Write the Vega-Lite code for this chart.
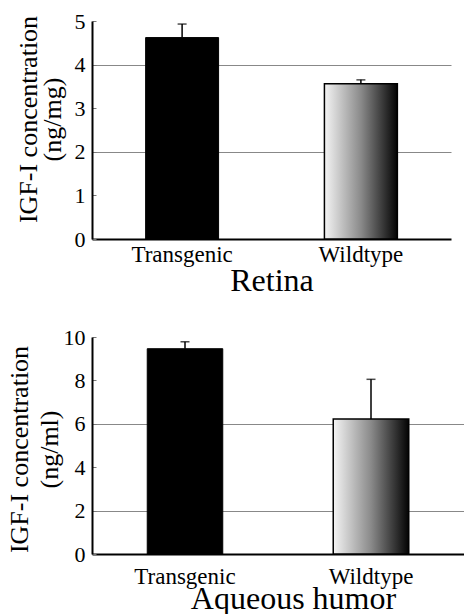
{
  "$schema": "https://vega.github.io/schema/vega-lite/v6.json",
  "background": "white",
  "padding": {"left": 5, "top": 10, "right": 0, "bottom": 0},
  "spacing": 30,
  "config": {
    "font": "Liberation Serif",
    "view": {"stroke": null},
    "axisY": {
      "domainColor": "black", "domainWidth": 2,
      "tickColor": "#777", "tickWidth": 1, "tickSize": -4,
      "labelFontSize": 22, "labelColor": "black", "labelPadding": 11,
      "titleFontSize": 26, "titleFontWeight": "normal", "titleColor": "black",
      "titleAngle": -90, "titleBaseline": "middle", "titleAlign": "center",
      "gridColor": "#888", "gridWidth": 1
    },
    "axisX": {
      "domainColor": "black", "domainWidth": 2, "ticks": false,
      "labelFontSize": 23, "labelColor": "black", "labelAngle": 0,
      "titleFontSize": 32, "titleFontWeight": "normal", "titleColor": "black"
    }
  },
  "datasets": {
    "igf": [
      {"tissue": "Retina", "group": "Transgenic", "mean": 4.62, "upper": 4.93},
      {"tissue": "Retina", "group": "Wildtype", "mean": 3.56, "upper": 3.65},
      {"tissue": "Aqueous humor", "group": "Transgenic", "mean": 9.46, "upper": 9.78},
      {"tissue": "Aqueous humor", "group": "Wildtype", "mean": 6.22, "upper": 8.05}
    ]
  },
  "vconcat": [
    {
      "data": {"name": "igf"},
      "transform": [{"filter": "datum.tissue === 'Retina'"}],
      "width": 359,
      "height": 218,
      "encoding": {
        "x": {
          "field": "group", "type": "nominal",
          "scale": {"paddingInner": 0.592, "paddingOuter": 0.3},
          "title": "Retina",
          "axis": {"labelPadding": 4, "titlePadding": -1}
        },
        "y": {
          "field": "mean", "type": "quantitative",
          "scale": {"domain": [0, 5], "nice": false},
          "title": ["IGF-I concentration", "(ng/mg)"],
          "axis": {
            "values": [0, 1, 2, 3, 4, 5],
            "titleLineHeight": 24, "titleX": -64, "titleY": 98,
            "grid": true,
            "gridOpacity": {"condition": {"test": "datum.value == 2 || datum.value == 4", "value": 1}, "value": 0}
          }
        }
      },
      "layer": [
        {
          "transform": [{"filter": "datum.group === 'Transgenic'"}],
          "mark": {"type": "bar", "fill": "black", "stroke": "black", "strokeWidth": 1}
        },
        {
          "transform": [{"filter": "datum.group === 'Wildtype'"}],
          "mark": {
            "type": "bar", "stroke": "black", "strokeWidth": 1.5,
            "fill": {"gradient": "linear", "x1": 0, "x2": 1, "y1": 0, "y2": 0,
              "stops": [{"offset": 0, "color": "#f4f4f4"}, {"offset": 0.5, "color": "#8a8a8a"}, {"offset": 1, "color": "#030303"}]}
          }
        },
        {
          "mark": {"type": "rule", "color": "black", "strokeWidth": 1.5},
          "encoding": {"y2": {"field": "upper"}}
        },
        {
          "mark": {"type": "tick", "orient": "horizontal", "color": "black", "size": 9, "thickness": 1.5},
          "encoding": {"y": {
            "field": "upper", "type": "quantitative",
            "scale": {"domain": [0, 5], "nice": false},
            "title": ["IGF-I concentration", "(ng/mg)"],
            "axis": {
              "values": [0, 1, 2, 3, 4, 5],
              "titleLineHeight": 24, "titleX": -64, "titleY": 98,
              "grid": true,
              "gridOpacity": {"condition": {"test": "datum.value == 2 || datum.value == 4", "value": 1}, "value": 0}
            }
          }}
        }
      ]
    },
    {
      "data": {"name": "igf"},
      "transform": [{"filter": "datum.tissue === 'Aqueous humor'"}],
      "width": 372,
      "height": 217,
      "encoding": {
        "x": {
          "field": "group", "type": "nominal",
          "scale": {"paddingInner": 0.594, "paddingOuter": 0.297},
          "title": "Aqueous humor",
          "axis": {"labelPadding": 11, "titlePadding": -5, "titleX": 201, "titleAlign": "center"}
        },
        "y": {
          "field": "mean", "type": "quantitative",
          "scale": {"domain": [0, 10], "nice": false},
          "title": ["IGF-I concentration", "(ng/ml)"],
          "axis": {
            "values": [0, 2, 4, 6, 8, 10],
            "titleLineHeight": 30, "titleX": -73, "titleY": 112,
            "grid": true,
            "gridOpacity": {"condition": {"test": "datum.value == 2 || datum.value == 6", "value": 1}, "value": 0}
          }
        }
      },
      "layer": [
        {
          "transform": [{"filter": "datum.group === 'Transgenic'"}],
          "mark": {"type": "bar", "fill": "black", "stroke": "black", "strokeWidth": 1}
        },
        {
          "transform": [{"filter": "datum.group === 'Wildtype'"}],
          "mark": {
            "type": "bar", "stroke": "black", "strokeWidth": 1.5,
            "fill": {"gradient": "linear", "x1": 0, "x2": 1, "y1": 0, "y2": 0,
              "stops": [{"offset": 0, "color": "#f4f4f4"}, {"offset": 0.5, "color": "#8a8a8a"}, {"offset": 1, "color": "#030303"}]}
          }
        },
        {
          "mark": {"type": "rule", "color": "black", "strokeWidth": 1.5},
          "encoding": {"y2": {"field": "upper"}}
        },
        {
          "mark": {"type": "tick", "orient": "horizontal", "color": "black", "size": 9, "thickness": 1.5},
          "encoding": {"y": {
            "field": "upper", "type": "quantitative",
            "scale": {"domain": [0, 10], "nice": false},
            "title": ["IGF-I concentration", "(ng/ml)"],
            "axis": {
              "values": [0, 2, 4, 6, 8, 10],
              "titleLineHeight": 30, "titleX": -73, "titleY": 112,
              "grid": true,
              "gridOpacity": {"condition": {"test": "datum.value == 2 || datum.value == 6", "value": 1}, "value": 0}
            }
          }}
        }
      ]
    }
  ]
}
